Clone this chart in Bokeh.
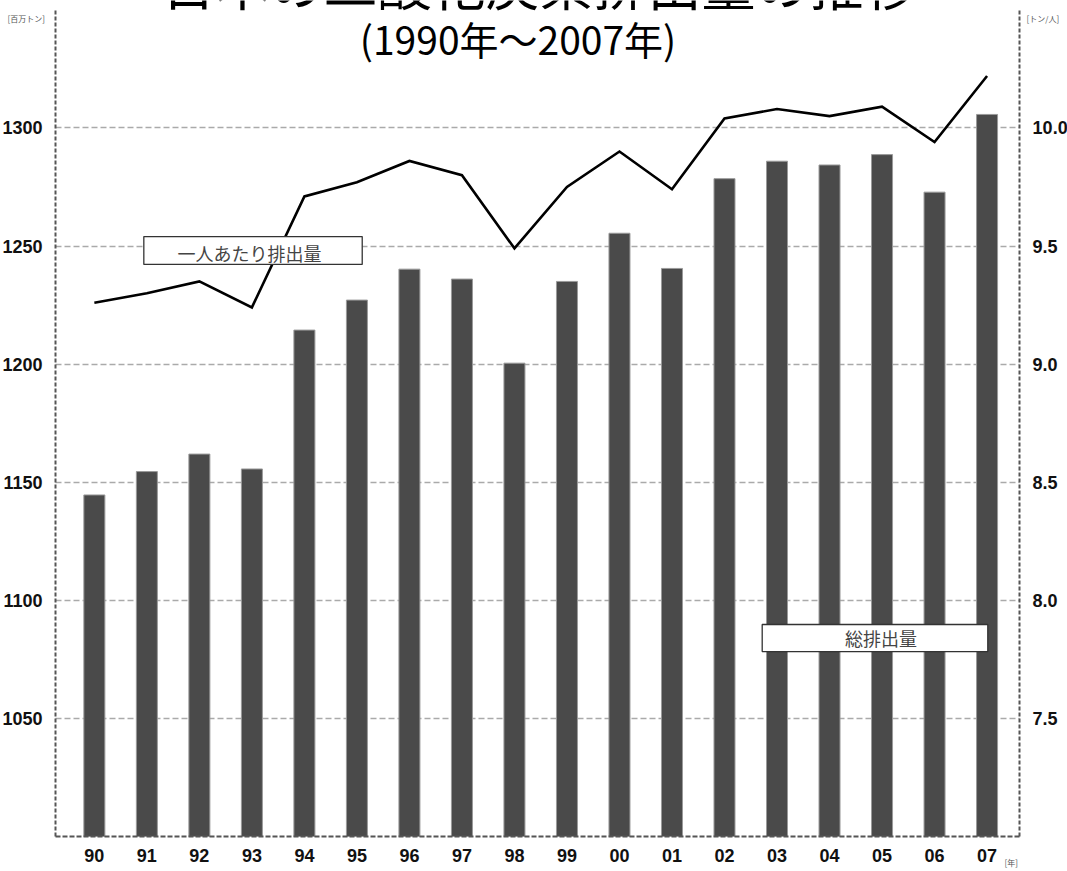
from bokeh.plotting import figure
from bokeh.models import Range1d, LinearAxis, FixedTicker, Label
from bokeh.embed import file_html
from bokeh.resources import INLINE

# 日本の二酸化炭素排出量（1990〜2007年）
years = ["90", "91", "92", "93", "94", "95", "96", "97", "98", "99",
         "00", "01", "02", "03", "04", "05", "06", "07"]
# 総排出量 [百万トン]
total_emissions = [1144.6, 1154.5, 1161.9, 1155.6, 1214.4, 1227.1, 1240.2, 1236.0, 1200.4,
                   1235.0, 1255.4, 1240.5, 1278.5, 1285.9, 1284.3, 1288.7, 1272.8, 1305.7]
# 一人あたり排出量 [トン/人]
per_capita = [9.26, 9.30, 9.35, 9.24, 9.71, 9.77, 9.86, 9.80, 9.49,
              9.75, 9.90, 9.74, 10.04, 10.08, 10.05, 10.09, 9.94, 10.22]
left_ticks = [1050, 1100, 1150, 1200, 1250, 1300]
right_ticks = [7.5, 8.0, 8.5, 9.0, 9.5, 10.0]

xs = list(range(len(years)))

AXIS_FONT = "Liberation Sans"
JP_FONT = "Noto Sans CJK JP"

# plot area edges (data units) where the dashed axes sit
X_LEFT, X_RIGHT = -0.74, 17.62
Y_BOTTOM, Y_TOP = 1000, 1349.7

# the frame fills the whole canvas; axes are pinned at fixed locations
p = figure(width=1067, height=871, output_backend="svg", toolbar_location=None,
           x_range=Range1d(-1.7874, 18.532), y_range=Range1d(985.18, 1353.94),
           min_border=0, outline_line_color=None,
           background_fill_color="white", border_fill_color="white")
p.extra_y_ranges = {"per_capita": Range1d(6.8518, 10.5394)}

# 総排出量（棒）
p.vbar(x=xs, top=total_emissions, bottom=Y_BOTTOM, width=0.4,
       fill_color="#4a4a4a", line_color="#9a9a9a", line_width=1)

# 一人あたり排出量（折れ線）
p.line(x=xs, y=per_capita, y_range_name="per_capita",
       line_color="black", line_width=2.6, line_join="miter")

# grid
p.xgrid.visible = False
p.ygrid.ticker = FixedTicker(ticks=left_ticks)
p.ygrid.cross_bounds = (X_LEFT, X_RIGHT)
p.ygrid.grid_line_color = "#aaaaaa"
p.ygrid.grid_line_dash = "6 3"
p.ygrid.grid_line_width = 1.5


def style_axis(ax):
    ax.axis_line_color = "#555555"
    ax.axis_line_width = 2
    ax.axis_line_dash = "4 2"
    ax.major_tick_line_color = None
    ax.minor_tick_line_color = None
    ax.major_label_text_font = AXIS_FONT
    ax.major_label_text_font_style = "bold"
    ax.major_label_text_font_size = "18px"
    ax.major_label_text_color = "#111111"
    ax.major_label_standoff = 7


# bottom axis
xa = p.xaxis[0]
xa.ticker = FixedTicker(ticks=xs)
xa.major_label_overrides = {i: y for i, y in enumerate(years)}
xa.fixed_location = Y_BOTTOM
xa.bounds = (X_LEFT, X_RIGHT)
style_axis(xa)
xa.axis_line_dash = "5 2"

# left axis
ya = p.yaxis[0]
ya.ticker = FixedTicker(ticks=left_ticks)
ya.fixed_location = X_LEFT
ya.bounds = (Y_BOTTOM, Y_TOP)
style_axis(ya)

# right axis
ra = LinearAxis(y_range_name="per_capita", ticker=FixedTicker(ticks=right_ticks))
ra.major_label_overrides = {t: f"{t:.1f}" for t in right_ticks}
ra.fixed_location = X_RIGHT
ra.bounds = (Y_BOTTOM / 100 - 3, Y_TOP / 100 - 3)
style_axis(ra)
p.add_layout(ra, "right")

# title
p.add_layout(Label(x=8.477, y=1361.5, text="日本の二酸化炭素排出量の推移",
                   text_font=JP_FONT, text_font_size="54px", text_color="black",
                   text_align="center", text_baseline="middle"))
p.add_layout(Label(x=8.068, y=1338.0, text="(1990年〜2007年)",
                   text_font=JP_FONT, text_font_size="39px", text_color="black",
                   text_align="center", text_baseline="middle"))

# unit labels
for lx, ly, txt in [(-1.654, 1346.3, "[百万トン]"), (17.752, 1346.3, "[トン/人]"),
                    (17.333, 989.0, "[年]")]:
    p.add_layout(Label(x=lx, y=ly, text=txt, text_font=JP_FONT, text_font_size="8px",
                       text_color="#555555", text_align="left", text_baseline="middle"))

# series name boxes
p.quad(left=[0.942, 12.718], right=[5.101, 17.014], top=[1254.0, 1089.75],
       bottom=[1242.2, 1078.3], fill_color="white", line_color="#333333", line_width=1.3)
p.add_layout(Label(x=2.955, y=1247.2, text="一人あたり排出量", text_font=JP_FONT,
                   text_font_size="18px", text_color="#444444",
                   text_align="center", text_baseline="middle"))
p.add_layout(Label(x=14.98, y=1084.1, text="総排出量", text_font=JP_FONT,
                   text_font_size="18px", text_color="#444444",
                   text_align="center", text_baseline="middle"))

open("out.html", "w").write(file_html(p, INLINE))
